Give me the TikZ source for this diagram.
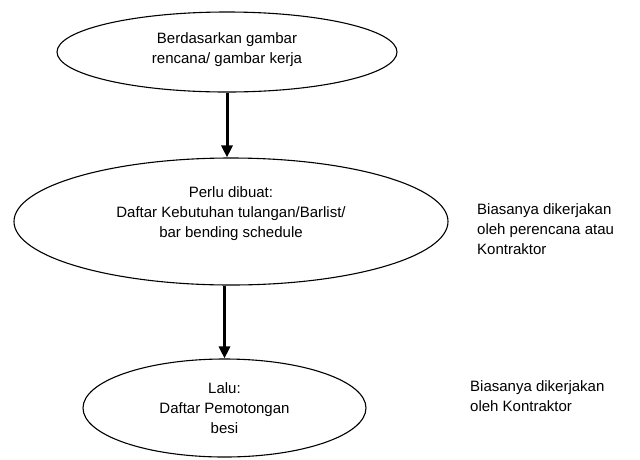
\documentclass[tikz,border=0pt]{standalone}
\usepackage{fontspec}
\setmainfont{Liberation Sans}
\usetikzlibrary{shapes.geometric,arrows.meta}
\newcommand{\txt}{\fontsize{15}{20}\selectfont}

\begin{document}
\begin{tikzpicture}[x=1pt, y=-1pt,
    oval/.style={draw, ellipse, line width=1.1pt, inner sep=0pt},
    words/.style={align=center, inner sep=0pt, font=\txt},
    note/.style={anchor=west, align=left, inner sep=0pt, font=\txt},
    flow/.style={-{Triangle[width=11pt,length=12pt]}, line width=3pt}]
    \useasboundingbox (0,0) rectangle (640,459);

    % Ellipses
    \node[oval, minimum width=340, minimum height=80] (gambar) at (227,52) {};
    \node[oval, minimum width=434, minimum height=127] (barlist) at (231,221.5) {};
    \node[oval, minimum width=283, minimum height=98] (potong) at (224.5,408) {};

    % Texts inside
    \node[words] (gambar-text) at (227,50) {Berdasarkan gambar\\rencana/ gambar kerja};
    \node[words] (barlist-text) at (231,214) {Perlu dibuat:\\Daftar Kebutuhan tulangan/Barlist/\\bar bending schedule};
    \node[words] (potong-text) at (224.5,408) {Lalu:\\Daftar Pemotongan\\besi};

    % Arrows
    \draw[flow] (gambar.south) -- (gambar.south |- barlist.north);
    \draw[flow] (potong.north |- barlist.south) -- (potong.north);

    % Notes
    \node[note] (note-1) at (477,229) {Biasanya dikerjakan\\oleh perencana atau\\Kontraktor};
    \node[note] (note-2) at (470,396) {Biasanya dikerjakan\\oleh Kontraktor};

\end{tikzpicture}
\end{document}
